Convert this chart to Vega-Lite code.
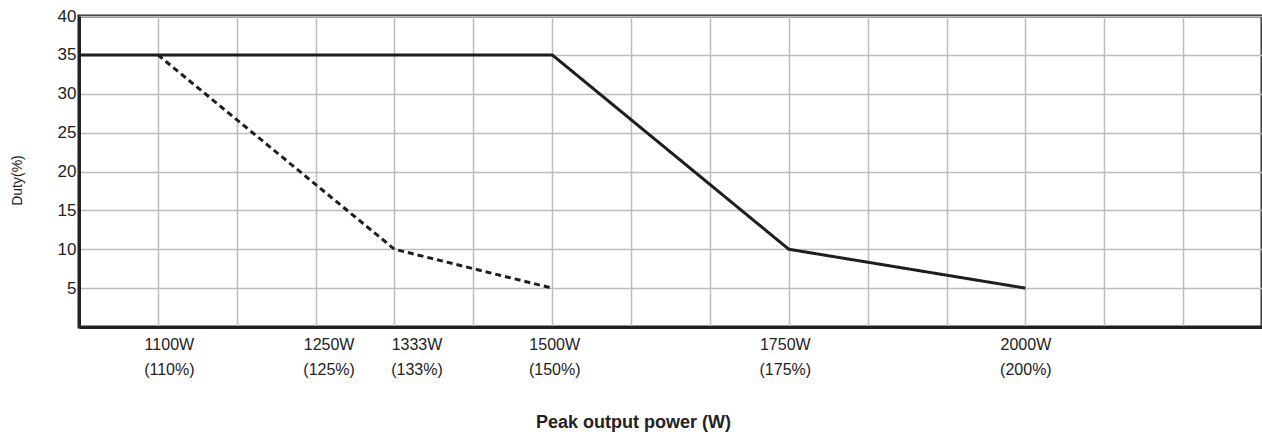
{
  "$schema": "https://vega.github.io/schema/vega-lite/v6.json",
  "autosize": "none",
  "width": 1183,
  "height": 311,
  "padding": {"left": 79, "top": 16, "right": 0, "bottom": 107},
  "background": "white",
  "config": {
    "view": {"stroke": "#222222", "strokeWidth": 3},
    "font": "Liberation Sans",
    "axis": {
      "labelFont": "Liberation Sans",
      "titleFont": "Liberation Sans",
      "labelColor": "#222222",
      "titleColor": "#222222",
      "labelFontSize": 16,
      "domainColor": "#222222",
      "domainWidth": 3,
      "gridColor": "#bdbdbd",
      "gridWidth": 1.5,
      "gridOpacity": 1,
      "ticks": false
    }
  },
  "data": {
    "values": [
      {"power": 1000, "duty": 35, "series": "solid"},
      {"power": 1500, "duty": 35, "series": "solid"},
      {"power": 1750, "duty": 10, "series": "solid"},
      {"power": 2000, "duty": 5, "series": "solid"},
      {"power": 1100, "duty": 35, "series": "dashed"},
      {"power": 1333, "duty": 10, "series": "dashed"},
      {"power": 1500, "duty": 5, "series": "dashed"}
    ]
  },
  "mark": {"type": "line", "color": "#1e1e1e", "strokeWidth": 3, "clip": false},
  "encoding": {
    "x": {
      "field": "power",
      "type": "quantitative",
      "scale": {
        "domain": [1000, 1100, 1250, 1333, 1500, 1750, 2000, 2250],
        "range": [0, 78.87, 236.6, 315.47, 473.2, 709.8, 946.4, 1183],
        "nice": false,
        "zero": false
      },
      "axis": {
        "values": [1000, 1100, 1175, 1250, 1333, 1416.5, 1500, 1583.33, 1666.67, 1750, 1833.33, 1916.67, 2000, 2083.33, 2166.67, 2250],
        "labelExpr": "indexof([1100, 1250, 1333, 1500, 1750, 2000], datum.value) >= 0 ? [datum.value + 'W', '(' + round(datum.value / 10) + '%)'] : ''",
        "labelOverlap": false,
        "labelFlush": false,
        "labelBaseline": "top",
        "labelPadding": 9,
        "labelLineHeight": 25,
        "labelOffset": {
          "condition": [
            {"test": "datum.value == 1100", "value": 11},
            {"test": "datum.value == 1250", "value": 13},
            {"test": "datum.value == 1333", "value": 22},
            {"test": "datum.value == 1500", "value": 2},
            {"test": "datum.value == 1750", "value": -4}
          ],
          "value": 0
        },
        "title": "Peak output power (W)",
        "titleFontSize": 18,
        "titleFontWeight": "bold",
        "titleX": 554,
        "titleY": 100,
        "titleAlign": "center",
        "titleBaseline": "alphabetic"
      }
    },
    "y": {
      "field": "duty",
      "type": "quantitative",
      "scale": {"domain": [0, 40], "nice": false},
      "axis": {
        "values": [0, 5, 10, 15, 20, 25, 30, 35, 40],
        "labelExpr": "datum.value == 0 ? '' : datum.label",
        "labelPadding": 3,
        "labelFontSize": 17,
        "title": "Duty(%)",
        "titleFontSize": 14,
        "titleFontWeight": "normal",
        "titleAngle": -90,
        "titleX": -62,
        "titleY": 164,
        "titleAlign": "center",
        "titleBaseline": "middle"
      }
    },
    "detail": {"field": "series"},
    "strokeDash": {
      "field": "series",
      "type": "nominal",
      "scale": {"domain": ["solid", "dashed"], "range": [[1, 0], [6, 4]]},
      "legend": null
    }
  }
}
